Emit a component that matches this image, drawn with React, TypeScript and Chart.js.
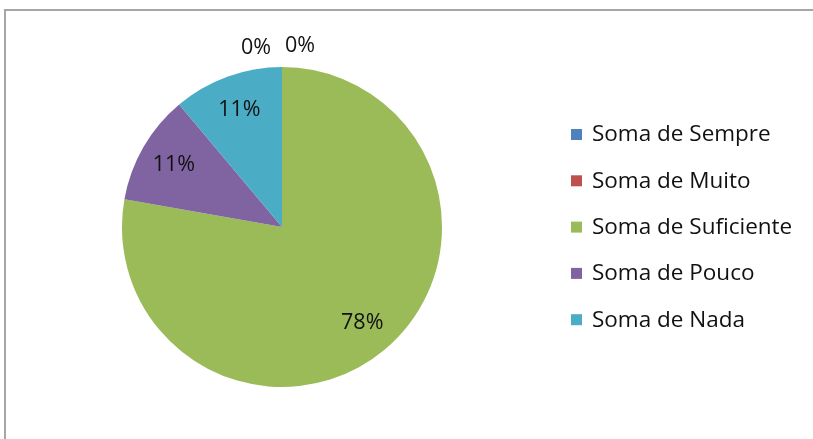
import React, { useEffect, useRef } from "react";
import { Chart, registerables } from "chart.js";

Chart.register(...registerables);

const categories = ["Soma de Sempre", "Soma de Muito", "Soma de Suficiente", "Soma de Pouco", "Soma de Nada"];
const values = [0, 0, 7, 1, 1];
const percentLabels = ["0%", "0%", "78%", "11%", "11%"];
const colors = ["#4F81BD", "#C0504D", "#9BBB59", "#8064A2", "#4BACC6"];

const FONT = "'Open Sans', sans-serif";

const framePlugin = {
  id: "frame",
  beforeDraw(chart: any) {
    const ctx = chart.ctx;
    ctx.save();
    ctx.fillStyle = "#ffffff";
    ctx.fillRect(0, 0, chart.width, chart.height);
    ctx.strokeStyle = "#a6a6a6";
    ctx.lineWidth = 2;
    ctx.strokeRect(5, 10, chart.width + 20, chart.height + 20);
    ctx.restore();
  },
};

const labelPlugin = {
  id: "sliceLabels",
  afterDatasetsDraw(chart: any) {
    const ctx = chart.ctx;
    const meta = chart.getDatasetMeta(0);
    ctx.save();
    ctx.fillStyle = "#111111";
    ctx.font = `21.5px ${FONT}`;
    ctx.textAlign = "center";
    ctx.textBaseline = "middle";
    let zeroIdx = 0;
    meta.data.forEach((arc: any, i: number) => {
      const { x, y, startAngle, endAngle, outerRadius } = arc.getProps(
        ["x", "y", "startAngle", "endAngle", "outerRadius"],
        true
      );
      const mid = (startAngle + endAngle) / 2;
      if (values[i] === 0) {
        const r = outerRadius + 19;
        const shift = zeroIdx === 0 ? -26 : 18;
        const dy = zeroIdx === 0 ? 0 : -2;
        ctx.fillText(percentLabels[i], x + Math.cos(mid) * r + shift, y + Math.sin(mid) * r + dy);
        zeroIdx++;
      } else {
        const r = outerRadius * 0.78;
        ctx.fillText(percentLabels[i], x + Math.cos(mid) * r, y + Math.sin(mid) * r);
      }
    });
    ctx.restore();
  },
};

const legendPlugin = {
  id: "customLegend",
  afterDraw(chart: any) {
    const ctx = chart.ctx;
    ctx.save();
    ctx.font = `22.5px ${FONT}`;
    ctx.textAlign = "left";
    ctx.textBaseline = "middle";
    const x0 = 571;
    const y0 = 134;
    const step = 46.3;
    categories.forEach((label, i) => {
      const cy = y0 + i * step;
      ctx.fillStyle = colors[i];
      ctx.fillRect(x0, cy - 5, 11, 11);
      ctx.fillStyle = "#111111";
      ctx.fillText(label, x0 + 21, cy + 1);
    });
    ctx.restore();
  },
};

export default function App() {
  const ref = useRef<HTMLCanvasElement>(null);
  useEffect(() => {
    if (!ref.current) return;
    const chart = new Chart(ref.current, {
      type: "pie",
      data: {
        labels: categories,
        datasets: [
          {
            data: values,
            backgroundColor: colors,
            borderWidth: 0,
          },
        ],
      },
      options: {
        animation: false,
        responsive: false,
        maintainAspectRatio: false,
        layout: { padding: { left: 122, right: 371, top: 67, bottom: 52 } },
        plugins: {
          legend: { display: false },
          tooltip: { enabled: false },
        },
      },
      plugins: [framePlugin, labelPlugin, legendPlugin],
    });
    return () => chart.destroy();
  }, []);
  return (
    <div style={{ position: "fixed", left: 0, top: 0, width: 813, height: 439 }}>
      <canvas ref={ref} width={813} height={439} style={{ width: 813, height: 439, display: "block" }} />
    </div>
  );
}
